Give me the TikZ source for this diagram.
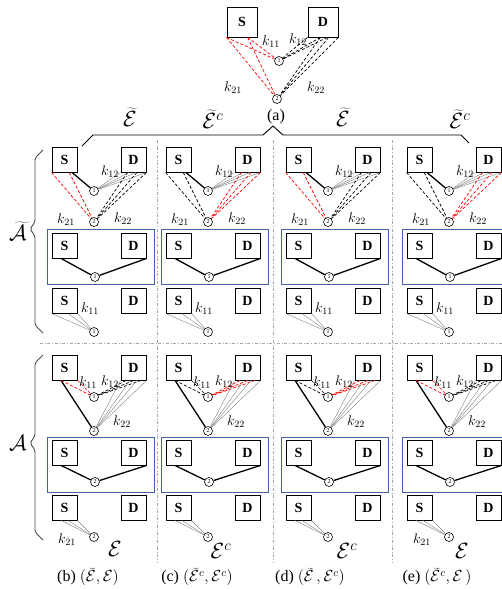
\documentclass[tikz,border=0pt]{standalone}
\usepackage{fix-cm}
\usepackage{fontspec}
\setmainfont{Liberation Serif}
\definecolor{frmblue}{RGB}{70,95,175}
\begin{document}
\begin{tikzpicture}
  [
    x=1pt, y=-1pt,
    font=\fontsize{14}{16}\selectfont,
    box/.style={draw, line width=0.9pt, minimum size=25pt, inner sep=0pt,
      font=\fontsize{14}{16}\selectfont\bfseries},
    bigbox/.style={box, minimum size=30pt},
    vtx/.style={draw, circle, line width=0.6pt, minimum size=9pt, inner sep=0pt,
      font=\fontsize{6}{6}\selectfont, fill=white},
    lnk/.style={line width=1.3pt},
    grp/.style={gray, line width=0.4pt},
    dsh/.style={dashed, line width=0.7pt, dash pattern=on 3pt off 2pt},
    sep/.style={gray!70, dash dot, line width=0.8pt},
    frm/.style={draw=frmblue, line width=0.8pt},
    brc/.style={gray!60!black, line width=0.9pt, rounded corners=2pt},
    big/.style={font=\fontsize{22}{24}\selectfont, inner sep=1pt},
    captxt/.style={font=\fontsize{16}{18}\selectfont, inner sep=1pt}
  ]
  \useasboundingbox (0,0) rectangle (502,589);

  % (a) the full model
  \node [bigbox] (S) at (242,22) {S};
  \node [bigbox] (D) at (323,22) {D};
  \node [vtx] (N1) at (279,61) {1};
  \node [vtx] (N2) at (277,99) {2};
  \foreach \a in {-135,-70}
  {
    \draw [dsh, red] (S.\a) -- (N1);
    \draw [dsh, red] (S.\a) -- (N2);
  }
  \foreach \a in {-135,-100,-75}
    \draw [dsh] (D.\a) -- (N1);
  \foreach \a in {-100,-70,-45}
    \draw [dsh] (D.\a) -- (N2);
  \node at (271,42) {$k_{11}$};
  \node at (298,40) {$k_{12}$};
  \node at (233,88) {$k_{21}$};
  \node at (316,88) {$k_{22}$};
  \node [captxt] (a) at (276,117) {(a)};

  % brace over the four columns
  \draw [line width=0.9pt] (82,146) -- (93,135) -- (263,135) -- (273,126)
    -- (283,135) -- (461,135) -- (469,143);
  \node [big] at (130,117) {$\widetilde{\mathcal{E}}$};
  \node [big] at (213,119) {$\widetilde{\mathcal{E}}^{c}$};
  \node [big] at (343,117) {$\widetilde{\mathcal{E}}$};
  \node [big] at (460,119) {$\widetilde{\mathcal{E}}^{c}$};

  % braces on the left
  \draw [brc] (43,150) -- (35,158) -- (35,222) -- (30,229) -- (35,236)
    -- (35,325) -- (43,333);
  \draw [brc] (43,355) -- (35,363) -- (35,436) -- (30,443) -- (35,450)
    -- (35,532) -- (43,540);
  \node [big] at (18,231) {$\widetilde{\mathcal{A}}$};
  \node [big] at (18,443) {$\mathcal{A}$};

  % separators
  \foreach \sx in {157,273,392}
    \draw [sep] (\sx,140) -- (\sx,562);
  \draw [sep] (40,343) -- (502,343);

  % the four columns
  \foreach \c/\x/\ts/\td/\bs/\bd/\kk in
    {b/52/red/black/red/black/1, c/166/black/red/black/red/0,
     d/286/red/black/black/red/0, e/407/black/red/red/black/1}
  {
    % upper group, first row
    \node [box] (S1\c) at (\x+12.5,159.5) {S};
    \node [box] (D1\c) at (\x+81.5,159.5) {D};
    \node [vtx] (U1\c) at (\x+42,191) {1};
    \node [vtx] (U2\c) at (\x+42,222) {2};
    \draw [lnk] (S1\c.-60) -- (U1\c);
    \foreach \a in {-135,-110,-80,-45}
      \draw [grp] (D1\c.\a) -- (U1\c);
    \foreach \a in {-135,-70}
      \draw [dsh, color=\ts] (S1\c.\a) -- (U2\c);
    \foreach \a in {-115,-75,-45}
      \draw [dsh, color=\td] (D1\c.\a) -- (U2\c);
    \node at (\x+58,172) {$k_{12}$};
    \node at (\x+14,220) {$k_{21}$};
    \node at (\x+71,219) {$k_{22}$};

    % upper group, second row
    \draw [frm] (\x-5,229) rectangle (\x+102,284);
    \node [box] (S2\c) at (\x+12.5,245.5) {S};
    \node [box] (D2\c) at (\x+81.5,245.5) {D};
    \node [vtx] (M1\c) at (\x+43,277) {1};
    \draw [lnk] (S2\c.-105) -- (M1\c) -- (D2\c.south east);

    % upper group, third row
    \node [box] (S3\c) at (\x+12.5,300.5) {S};
    \node [box] (D3\c) at (\x+81.5,300.5) {D};
    \node [vtx] (L1\c) at (\x+42,332) {1};
    \foreach \a in {-135,-75,-45}
      \draw [grp] (S3\c.\a) -- (L1\c);
    \node at (\x+38,309) {$k_{11}$};

    % lower group, first row
    \node [box] (S4\c) at (\x+12.5,367.5) {S};
    \node [box] (D4\c) at (\x+81.5,367.5) {D};
    \node [vtx] (P1\c) at (\x+42,397) {1};
    \node [vtx] (P2\c) at (\x+42,431) {2};
    \draw [lnk] (S4\c.-105) -- (P2\c);
    \foreach \a in {-105,-45}
      \draw [dsh, color=\bs] (S4\c.\a) -- (P1\c);
    \foreach \a in {-120,-90,-60}
      \draw [dsh, color=\bd] (D4\c.\a) -- (P1\c);
    \foreach \a in {-135,-105,-75,-45}
      \draw [grp] (D4\c.\a) -- (P2\c);
    \node at (\x+36,383) {$k_{11}$};
    \node at (\x+58,382) {$k_{12}$};
    \node at (\x+70,422) {$k_{22}$};

    % lower group, second row
    \draw [frm] (\x-5,437) rectangle (\x+102,492);
    \node [box] (S5\c) at (\x+12.5,452.5) {S};
    \node [box] (D5\c) at (\x+81.5,452.5) {D};
    \node [vtx] (Q2\c) at (\x+43,482) {2};
    \draw [lnk] (S5\c.-105) -- (Q2\c) -- (D5\c.south east);

    % lower group, third row
    \node [box] (S6\c) at (\x+12.5,507.5) {S};
    \node [box] (D6\c) at (\x+81.5,507.5) {D};
    \node [vtx] (R2\c) at (\x+42,537) {2};
    \foreach \a in {-105,-75,-45}
      \draw [grp] (S6\c.\a) -- (R2\c);
    \ifnum\kk=1
      \node at (\x+15,540) {$k_{21}$};
    \fi
  }

  % captions
  \node [big] at (115,549) {$\mathcal{E}$};
  \node [big] at (221,551) {$\mathcal{E}^{c}$};
  \node [big] at (347,551) {$\mathcal{E}^{c}$};
  \node [big] at (462,551) {$\mathcal{E}$};
  \node [captxt] at (88,577) {(b) $(\widetilde{\mathcal{E}},\mathcal{E})$};
  \node [captxt] at (197,577) {(c) $(\widetilde{\mathcal{E}}^{c},\mathcal{E}^{c})$};
  \node [captxt] at (310,577) {(d) $(\widetilde{\mathcal{E}}\,,\mathcal{E}^{c})$};
  \node [captxt] at (437,577) {(e) $(\widetilde{\mathcal{E}}^{c},\mathcal{E}\,)$};
\end{tikzpicture}
\end{document}
